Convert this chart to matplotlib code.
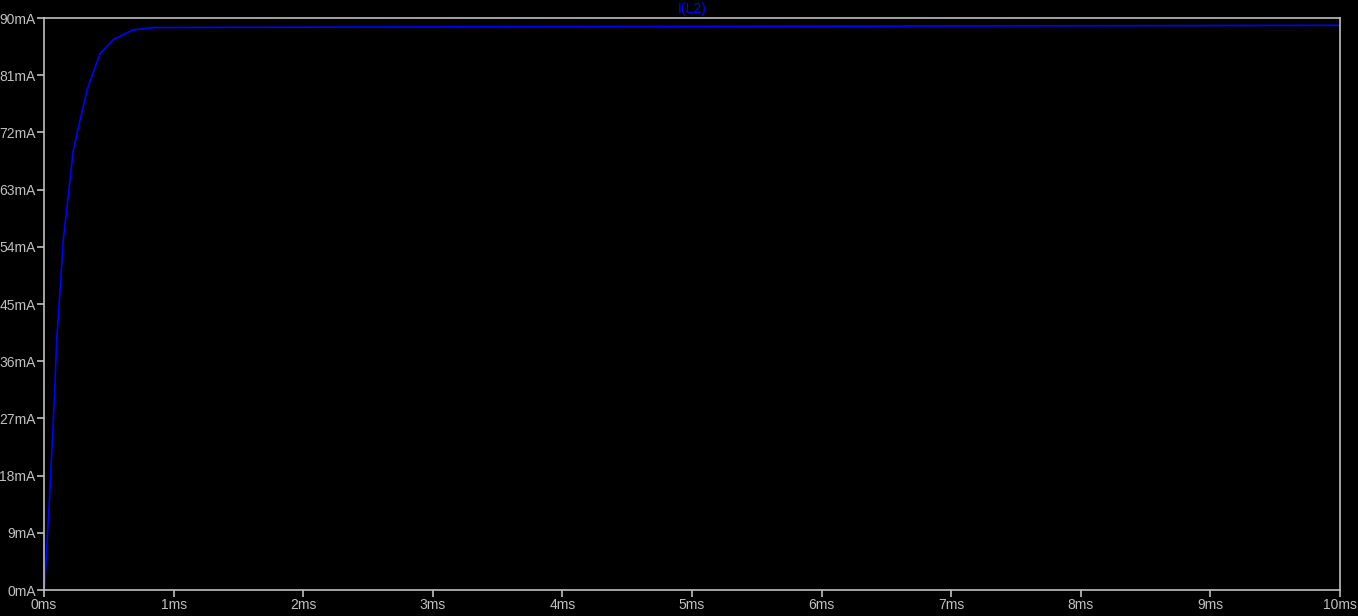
import matplotlib
matplotlib.use('Agg')
import matplotlib.pyplot as plt
from matplotlib.ticker import FuncFormatter, MultipleLocator

# I(L2) transient
time_ms = [0.0, 0.005, 0.026, 0.046, 0.062, 0.083, 0.098, 0.12, 0.149, 0.175,
           0.226, 0.278, 0.334, 0.432, 0.535, 0.682, 0.844, 3.0, 7.2, 10.0]
current_ma = [0.0, 0.4, 8.4, 15.7, 22.5, 31.5, 39.3, 46.0, 55.1, 59.8,
              69.2, 73.9, 78.8, 84.4, 86.6, 88.1, 88.5, 88.6, 88.75, 88.85]
trace_name = "I(L2)"

fg = '#c0c0c0'
plt.rcParams['font.family'] = ['Liberation Sans', 'DejaVu Sans']

fig = plt.figure(figsize=(13.58, 6.16), dpi=100)
fig.patch.set_facecolor('black')
ax = fig.add_axes([44/1358, 26/616, 1296/1358, 572/616])
ax.set_facecolor('black')

ax.plot(time_ms, current_ma, color='#0000ff', lw=1.2)

ax.set_xlim(0, 10)
ax.set_ylim(0, 90)
ax.xaxis.set_major_locator(MultipleLocator(1))
ax.yaxis.set_major_locator(MultipleLocator(9))
ax.xaxis.set_major_formatter(FuncFormatter(lambda v, p: f"{v:.0f}ms"))
ax.yaxis.set_major_formatter(FuncFormatter(lambda v, p: f"{v:.0f}mA"))

for s in ax.spines.values():
    s.set_color(fg)
    s.set_linewidth(1.2)
ax.tick_params(colors=fg, labelsize=10, length=5, width=1.2, pad=1)

fig.text(692/1358, 1 - 9/616, trace_name, color='#0000ff', fontsize=10,
         ha='center', va='center')

fig.savefig('out.png', dpi=100, facecolor='black')
